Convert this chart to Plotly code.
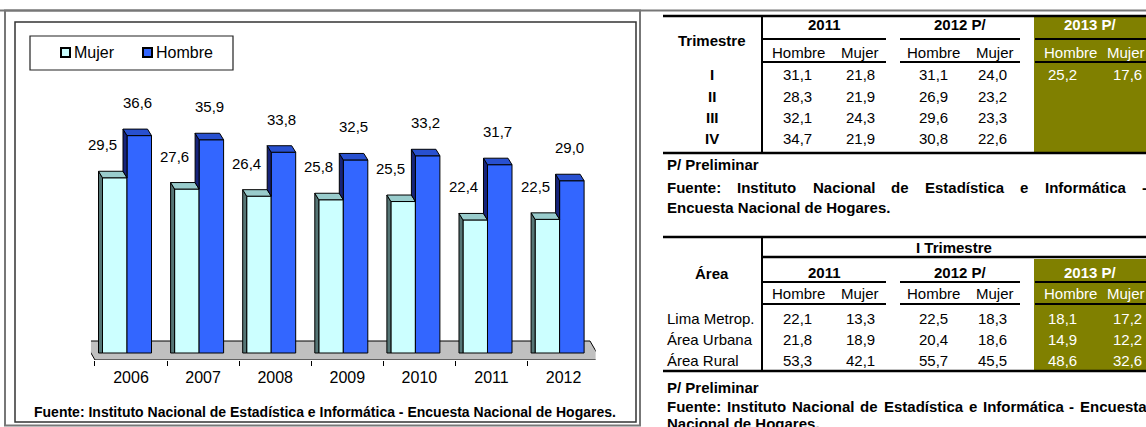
import plotly.graph_objects as go

# ---------------- data ----------------
years = ["2006", "2007", "2008", "2009", "2010", "2011", "2012"]
mujer = [29.5, 27.6, 26.4, 25.8, 25.5, 22.4, 22.5]
hombre = [36.6, 35.9, 33.8, 32.5, 33.2, 31.7, 29.0]

trimestres = ["I", "II", "III", "IV"]
t2011_h = [31.1, 28.3, 32.1, 34.7]
t2011_m = [21.8, 21.9, 24.3, 21.9]
t2012_h = [31.1, 26.9, 29.6, 30.8]
t2012_m = [24.0, 23.2, 23.3, 22.6]
t2013_h = [25.2]
t2013_m = [17.6]

areas = ["Lima Metrop.", "Área Urbana", "Área Rural"]
a2011_h = [22.1, 21.8, 53.3]
a2011_m = [13.3, 18.9, 42.1]
a2012_h = [22.5, 20.4, 55.7]
a2012_m = [18.3, 18.6, 45.5]
a2013_h = [18.1, 14.9, 48.6]
a2013_m = [17.2, 12.2, 32.6]

year_heads = ["2011", "2012 P/", "2013 P/"]
sub_heads = ["Hombre", "Mujer"]
fuente_1 = "Fuente: Instituto Nacional de Estadística e Informática -"
fuente_2 = "Fuente: Instituto Nacional de Estadística e Informática - Encuesta"

# ---------------- geometry ----------------
W, H = 1146, 427
FONT = "Liberation Sans, Arial, sans-serif"
OLIVE = "#808000"
FS = 15  # table font size


def px(x):
    return x / W


def py(y):
    return 1 - y / H


def fmt(v):
    return f"{v:.1f}".replace(".", ",")


# Arial/Liberation Sans Bold advance widths (per 1000 em) used to justify footnotes
BOLD_W = {' ': 278, 'F': 611, 'u': 611, 'e': 556, 'n': 611, 't': 333, ':': 333, 'I': 278,
          's': 556, 'i': 278, 'o': 611, 'N': 722, 'a': 556, 'c': 556, 'l': 278, 'd': 611,
          'E': 667, 'á': 556, 'í': 278, 'f': 333, 'r': 389, 'm': 889, '-': 333, 'H': 722,
          'g': 611, '.': 278, 'P': 667, '/': 278, 'p': 611}


def bold_width(s, size):
    return sum(BOLD_W.get(c, 556) for c in s) * size / 1000


n = len(years)
xs = list(range(n))
CAT_PX = 72.1          # pixels per category
X_LEFT_PX = 127 - CAT_PX / 2
Y0_PX = 353            # pixel of value 0
PPU = 5.94             # pixels per unit
FRONT_PX = 7           # floor front edge below the bars' base
BACK_PX = 12           # floor back edge above the bars' base
Y_MIN, Y_MAX = -FRONT_PX / PPU, 40
BW = 24.5 / CAT_PX     # bar width in category units
DX = 4 / CAT_PX        # 3D depth offsets (to the upper-left)
DY = 6.5 / PPU

x_dom = [px(X_LEFT_PX), px(X_LEFT_PX + CAT_PX * n)]
y_dom = [py(Y0_PX - Y_MIN * PPU), py(Y0_PX - Y_MAX * PPU)]

fig = go.Figure()

MUJ_FRONT, MUJ_SIDE, MUJ_TOP = "#CCFFFF", "#557575", "#99CCCC"
HOM_FRONT, HOM_SIDE, HOM_TOP = "#3366FF", "#16237A", "#2850D0"

fig.add_trace(go.Bar(x=xs, y=mujer, width=BW, offset=-BW, name="Mujer",
                     marker=dict(color=MUJ_FRONT, line=dict(color="black", width=1)),
                     showlegend=False, hoverinfo="skip"))
fig.add_trace(go.Bar(x=xs, y=hombre, width=BW, offset=0, name="Hombre",
                     marker=dict(color=HOM_FRONT, line=dict(color="black", width=1)),
                     showlegend=False, hoverinfo="skip"))


def poly_trace(xl, yl, color):
    fig.add_trace(go.Scatter(x=xl, y=yl, mode="lines", fill="toself",
                             fillcolor=color, line=dict(color="black", width=1),
                             showlegend=False, hoverinfo="skip"))


for i, (m, h) in enumerate(zip(mujer, hombre)):
    l = i - BW
    poly_trace([l, l, l - DX, l - DX, l], [0, m, m + DY, 0, 0], MUJ_SIDE)
    poly_trace([l, i, i - DX, l - DX, l], [m, m, m + DY, m + DY, m], MUJ_TOP)
    poly_trace([i, i, i - DX, i - DX, i], [m, h, h + DY, m + DY, m], HOM_SIDE)
    poly_trace([i, i + BW, i + BW - DX, i - DX, i], [h, h, h + DY, h + DY, h], HOM_TOP)

# floor (below the bars)
fl_back = BACK_PX / PPU
fl_front = Y_MIN
slant = 11 / CAT_PX
bl = (84 - 127) / CAT_PX
fr = (n - 1) + (601 - 127 - (n - 1) * CAT_PX) / CAT_PX
fig.add_shape(type="path", xref="x", yref="y", layer="below",
              path=f"M{bl},{fl_back} L{bl + slant},{fl_front} L{fr},{fl_front} "
                   f"L{fr - slant},{fl_back} Z",
              fillcolor="#C0C0C0", line=dict(color="black", width=1))

# value labels
for i, (m, h) in enumerate(zip(mujer, hombre)):
    fig.add_annotation(x=i - BW, y=m, text=fmt(m), showarrow=False, yshift=33,
                       font=dict(family=FONT, size=15, color="black"))
    fig.add_annotation(x=i + BW / 2, y=h, text=fmt(h), showarrow=False, yshift=33, xshift=-2,
                       font=dict(family=FONT, size=15, color="black"))

shift = 4 / CAT_PX
fig.update_xaxes(domain=x_dom, range=[-0.5, n - 0.5], showgrid=False, zeroline=False,
                 showline=False, tickmode="array", tickvals=[i + shift for i in xs],
                 ticktext=years, ticks="", ticklabelstandoff=6,
                 tickfont=dict(family=FONT, size=16, color="black"),
                 minor=dict(tickmode="array", tickvals=[i - 0.5 + shift for i in range(n + 1)],
                            ticks="outside", ticklen=5, tickcolor="black", tickwidth=1))
fig.update_yaxes(domain=y_dom, range=[Y_MIN, Y_MAX], visible=False)

shapes = []
ann = []


def line(x0, y0, x1, y1, color="black", width=2):
    shapes.append(dict(type="line", xref="paper", yref="paper", x0=px(x0), y0=py(y0),
                       x1=px(x1), y1=py(y1), line=dict(color=color, width=width)))


def rect(x0, y0, x1, y1, fill=None, color="black", width=1, layer="above"):
    shapes.append(dict(type="rect", xref="paper", yref="paper", x0=px(x0), y0=py(y0),
                       x1=px(x1), y1=py(y1), fillcolor=fill if fill else "rgba(0,0,0,0)",
                       line=dict(color=color, width=width), layer=layer))


def text(x, y, s, size=FS, bold=False, color="black", anchor="center"):
    t = f"<b>{s}</b>" if bold else s
    ann.append(dict(xref="paper", yref="paper", x=px(x), y=py(y), text=t, showarrow=False,
                    xanchor=anchor, yanchor="middle",
                    font=dict(family=FONT, size=size, color=color)))


def justified(x0, x1, y, s, size=FS):
    words = s.split(" ")
    widths = [bold_width(w, size) for w in words]
    gap = (x1 - x0 - sum(widths)) / (len(words) - 1)
    x = x0
    for w, wd in zip(words, widths):
        text(x, y, w, size=size, bold=True, anchor="left")
        x += wd + gap


# frames of the left panel
line(0, 10.5, W, 10.5, color="#777777", width=2)
rect(5, 10.5, 640, 425.5, color="#777777", width=2, layer="below")
rect(15, 22, 636, 422, color="#333333", width=1.5, layer="below")

# legend
rect(30, 36, 233, 70, color="#222222", width=1.2)
rect(61, 48, 70, 57, fill=MUJ_FRONT, color="black", width=2)
text(72, 52.5, "Mujer", size=16, anchor="left")
rect(143, 48, 152, 57, fill=HOM_FRONT, color="black", width=2)
text(154, 52.5, "Hombre", size=16, anchor="left")

text(325, 412, "Fuente: Instituto Nacional de Estadística e Informática - Encuesta Nacional de Hogares.",
     size=14, bold=True)

# ---------------- tables ----------------
TL, TV, TR = 663, 762, 1146
col_spans = [(762, 886), (900, 1020), (1034, 1146)]
head_x = [[798, 860], [933, 995], [1070, 1126]]
data_x = [[797, 860], [933, 992], [1062, 1127]]
year_x = [824, 960, 1090]


def header_block(y_year, y_line1, y_sub, y_line2):
    for k, (a, b) in enumerate(col_spans):
        col = "white" if k == 2 else "black"
        text(year_x[k], y_year, year_heads[k], bold=True, color=col)
        line(a if k < 2 else a + 1, y_line1, b, y_line1, width=2)
        for j, s in enumerate(sub_heads):
            text(head_x[k][j], y_sub, s, color=col)
        line(a if k < 2 else a + 1, y_line2, b, y_line2, width=2)


# table 1
rect(1034, 16, TR, 153, fill=OLIVE, color=OLIVE, width=0, layer="below")
line(TL, 16, TR, 16, width=2.5)
line(TV, 16, TV, 153, width=2)
line(TL, 153, TR, 153, width=2.5)
text(712, 40, "Trimestre", bold=True)
header_block(25, 39, 52, 62)
row_y1 = [75, 96, 117, 138]
for r, lab in enumerate(trimestres):
    text(712, row_y1[r], lab, bold=True)
    for c, arr in enumerate([t2011_h, t2011_m, t2012_h, t2012_m]):
        text(data_x[c // 2][c % 2], row_y1[r], fmt(arr[r]))
    if r < len(t2013_h):
        text(data_x[2][0], row_y1[r], fmt(t2013_h[r]), color="white")
        text(data_x[2][1], row_y1[r], fmt(t2013_m[r]), color="white")

text(665, 164, "P/ Preliminar", bold=True, anchor="left")
justified(665, 1145, 187, fuente_1)
text(665, 207, "Encuesta Nacional de Hogares.", bold=True, anchor="left")

# table 2
rect(1034, 259, TR, 371, fill=OLIVE, color=OLIVE, width=0, layer="below")
line(TL, 237, TR, 237, width=2.5)
line(TV, 237, TV, 371, width=2)
line(TV, 257, TR, 257, width=2.5)
line(TL, 371, TR, 371, width=2.5)
text(954, 247, "I Trimestre", bold=True)
text(712, 273, "Área", bold=True)
header_block(272, 282, 293, 304)
row_y2 = [318, 339, 360]
for r, lab in enumerate(areas):
    text(665, row_y2[r], lab, anchor="left")
    for c, arr in enumerate([a2011_h, a2011_m, a2012_h, a2012_m]):
        text(data_x[c // 2][c % 2], row_y2[r], fmt(arr[r]))
    text(data_x[2][0], row_y2[r], fmt(a2013_h[r]), color="white")
    text(data_x[2][1], row_y2[r], fmt(a2013_m[r]), color="white")

text(665, 387, "P/ Preliminar", bold=True, anchor="left")
justified(665, 1145, 406, fuente_2)
text(665, 423, "Nacional de Hogares.", bold=True, anchor="left")

fig.update_layout(width=W, height=H, margin=dict(l=0, r=0, t=0, b=0),
                  paper_bgcolor="white", plot_bgcolor="rgba(0,0,0,0)",
                  barmode="overlay", showlegend=False, hovermode=False,
                  shapes=list(fig.layout.shapes) + shapes,
                  annotations=list(fig.layout.annotations) + ann,
                  font=dict(family=FONT, color="black"))

fig.write_html("out.html", config={"displayModeBar": False, "staticPlot": True},
               post_script="document.body.style.margin='0';document.body.style.overflow='hidden';")
